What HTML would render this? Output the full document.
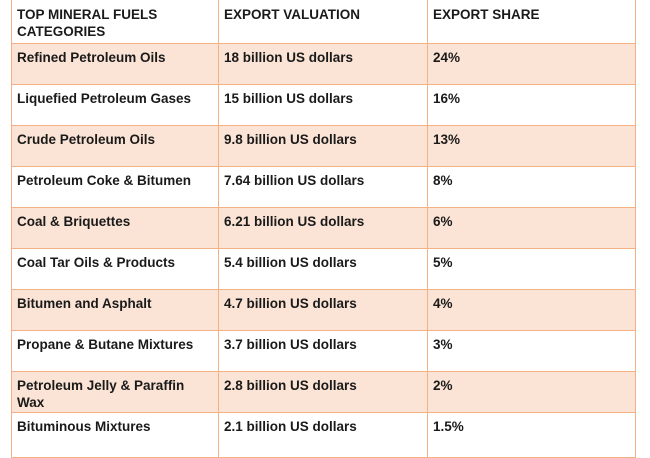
<!DOCTYPE html>
<html><head><style>
body{margin:0;width:650px;height:450px;overflow:hidden;background:#fff;font-family:"Liberation Sans",sans-serif;}
table{position:absolute;left:11px;top:-1px;border-collapse:collapse;table-layout:fixed;}
td{border:1.5px solid #f4b183;vertical-align:top;padding:5px 5px 0 5px;font-size:13.5px;font-weight:bold;color:#1a1a1a;line-height:17px;box-sizing:border-box;height:41px;}
tr.h td{height:44px;padding-top:6px;}
tr.f td{background:#fbe4d5;}
</style></head><body>
<table>
<colgroup><col style="width:207px"><col style="width:209px"><col style="width:208px"></colgroup>
<tr class="h"><td>TOP MINERAL FUELS CATEGORIES</td><td>EXPORT VALUATION</td><td>EXPORT SHARE</td></tr>
<tr class="f"><td>Refined Petroleum Oils</td><td>18 billion US dollars</td><td>24%</td></tr>
<tr><td>Liquefied Petroleum Gases</td><td>15 billion US dollars</td><td>16%</td></tr>
<tr class="f"><td>Crude Petroleum Oils</td><td>9.8 billion US dollars</td><td>13%</td></tr>
<tr><td>Petroleum Coke &amp; Bitumen</td><td>7.64 billion US dollars</td><td>8%</td></tr>
<tr class="f"><td>Coal &amp; Briquettes</td><td>6.21 billion US dollars</td><td>6%</td></tr>
<tr><td>Coal Tar Oils &amp; Products</td><td>5.4 billion US dollars</td><td>5%</td></tr>
<tr class="f"><td>Bitumen and Asphalt</td><td>4.7 billion US dollars</td><td>4%</td></tr>
<tr><td>Propane &amp; Butane Mixtures</td><td>3.7 billion US dollars</td><td>3%</td></tr>
<tr class="f"><td>Petroleum Jelly &amp; Paraffin<br>Wax</td><td>2.8 billion US dollars</td><td>2%</td></tr>
<tr><td style="height:45px">Bituminous Mixtures</td><td>2.1 billion US dollars</td><td>1.5%</td></tr>
</table>
</body></html>
